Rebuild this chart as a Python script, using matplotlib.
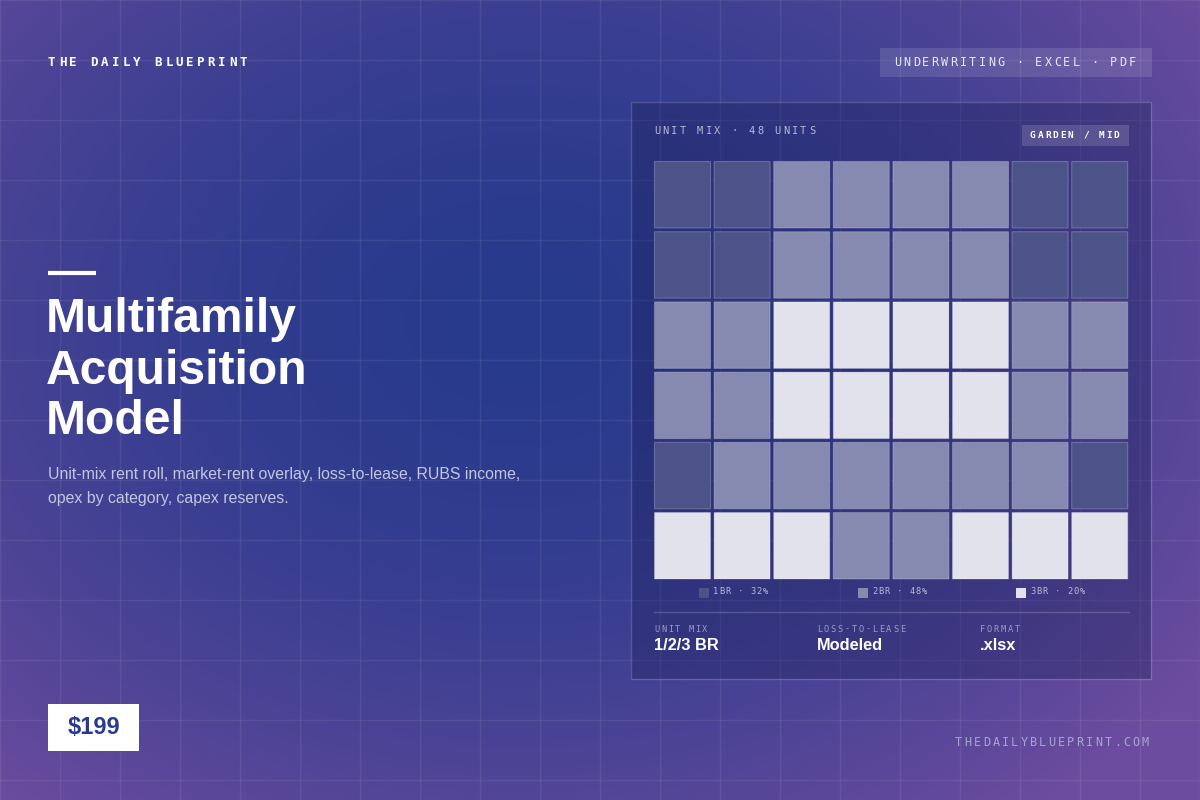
import numpy as np
import matplotlib
matplotlib.use("Agg")
import matplotlib.pyplot as plt
from matplotlib.patches import Rectangle

# ---- data ----
unit_grid = [
    [1, 1, 2, 2, 2, 2, 1, 1],
    [1, 1, 2, 2, 2, 2, 1, 1],
    [2, 2, 3, 3, 3, 3, 2, 2],
    [2, 2, 3, 3, 3, 3, 2, 2],
    [1, 2, 2, 2, 2, 2, 2, 1],
    [3, 3, 3, 2, 2, 3, 3, 3],
]
legend_labels = ["1BR · 32%", "2BR · 48%", "3BR · 20%"]
stat_labels = ["UNIT MIX", "LOSS-TO-LEASE", "FORMAT"]
stat_values = ["1/2/3 BR", "Modeled", ".xlsx"]
title_lines = ["Multifamily", "Acquisition", "Model"]
subtitle_lines = ["Unit-mix rent roll, market-rent overlay, loss-to-lease, RUBS income,",
                  "opex by category, capex reserves."]

type_colors = {1: "#4b5389", 2: "#8689b0", 3: "#e1e2eb"}

W, H = 1200, 800
fig = plt.figure(figsize=(12, 8), dpi=100)
ax = fig.add_axes([0, 0, 1, 1])
ax.set_xlim(0, W)
ax.set_ylim(H, 0)
ax.axis("off")

# background gradient
yy, xx = np.mgrid[0:H, 0:W]
d = np.sqrt(((xx - 520) / 820) ** 2 + ((yy - 320) / 620) ** 2)
t = np.clip(d, 0, 1) ** 1.8
blue = np.array([0x28, 0x3a, 0x8c]) / 255
purp = np.array([0x6c, 0x4c, 0x9e]) / 255
img = blue[None, None, :] * (1 - t[..., None]) + purp[None, None, :] * t[..., None]
ax.imshow(img, extent=[0, W, H, 0], zorder=0, aspect="auto")
for g in range(0, W + 1, 60):
    ax.plot([g, g], [0, H], color="white", alpha=0.07, lw=1, zorder=1)
for g in range(0, H + 1, 60):
    ax.plot([0, W], [g, g], color="white", alpha=0.07, lw=1, zorder=1)

MONO = "DejaVu Sans Mono"
SANS = "Liberation Sans"

def spaced(x, y, s, size, pitch, color, weight="normal", family=MONO, va="center"):
    for i, ch in enumerate(s):
        ax.text(x + i * pitch, y, ch, fontsize=size, color=color, weight=weight,
                family=family, ha="left", va=va, zorder=5)

# header
spaced(48, 62, "THE DAILY BLUEPRINT", 9, 10.65, "white", weight="bold")
ax.add_patch(Rectangle((880, 48), 272, 29, color="white", alpha=0.12, lw=0, zorder=3))
spaced(894, 62.5, "UNDERWRITING · EXCEL · PDF", 8.5, 9.4, "#e6e7f3")

# left title
ax.plot([48, 96], [273, 273], color="white", lw=3, zorder=4, solid_capstyle="butt")
for i, line in enumerate(title_lines):
    ax.text(46, 320 + i * 51, line, fontsize=34.6, weight="bold", color="white",
            family=SANS, va="center", ha="left", zorder=5)
for i, line in enumerate(subtitle_lines):
    ax.text(48, 475 + i * 23, line, fontsize=11.4, color="#c2c6e2", family=SANS,
            va="center", ha="left", zorder=5)

# price
ax.add_patch(Rectangle((48, 704), 91, 47, color="white", lw=0, zorder=3))
ax.text(93.5, 727.5, "$199", fontsize=17, weight="bold", color="#2a3a8c",
        family=SANS, ha="center", va="center", zorder=5)
spaced(955, 743, "THEDAILYBLUEPRINT.COM", 8.5, 9.35, "#a3a6d0")

# panel
ax.add_patch(Rectangle((631, 102), 520, 577, facecolor="#1e1f5a", alpha=0.35,
                       edgecolor="none", zorder=2))
ax.add_patch(Rectangle((631, 102), 520, 577, facecolor="none",
                       edgecolor=(1, 1, 1, 0.18), lw=1, zorder=2))
spaced(654, 131, "UNIT MIX · 48 UNITS", 7.5, 8.6, "#b6b9d8")
ax.add_patch(Rectangle((1022, 125), 107, 21, color="white", alpha=0.15, lw=0, zorder=3))
spaced(1030, 135, "GARDEN / MID", 6.8, 7.6, "white", weight="bold")

x0, y0, px, py, cw, ch = 654.5, 161.5, 59.6, 70.2, 56, 66.5
for r, row in enumerate(unit_grid):
    for c, v in enumerate(row):
        ax.add_patch(Rectangle((x0 + c * px, y0 + r * py), cw, ch,
                               facecolor=type_colors[v], snap=False,
                               edgecolor=(1, 1, 1, 0.22), lw=0.8, zorder=4))

leg_x = [699, 858, 1016]
for lx, lab, k in zip(leg_x, legend_labels, [1, 2, 3]):
    ax.add_patch(Rectangle((lx, 588), 10, 10, color=type_colors[k], lw=0, zorder=4))
    spaced(lx + 14, 592, lab, 6.3, 6.2, "#b6b9d8")

ax.plot([654, 1129], [612, 612], color="white", alpha=0.18, lw=1, zorder=4)
for sx, lab, val in zip([654, 817, 980], stat_labels, stat_values):
    spaced(sx, 629, lab, 6.2, 6.9, "#9a9dc6")
    ax.text(sx, 646, val, fontsize=11.8, weight="bold", color="white",
            family=SANS, ha="left", va="center", zorder=5)

fig.savefig("out.png", dpi=100)
